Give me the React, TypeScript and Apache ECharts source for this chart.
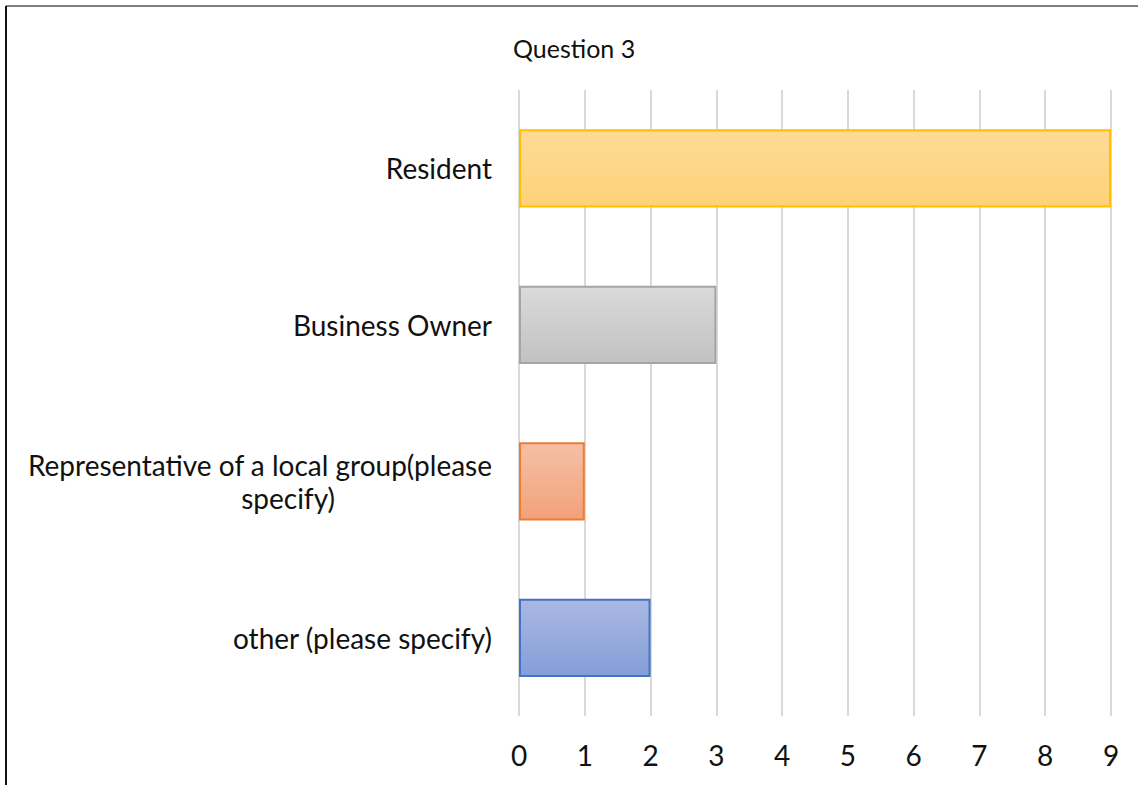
import React, { useEffect, useRef } from "react";
import * as echarts from "echarts";

const categories = [
  "Resident",
  "Business Owner",
  "Representative of a local group(please specify)",
  "other (please specify)",
];
const values = [9, 3, 1, 2];
const xTicks = [0, 1, 2, 3, 4, 5, 6, 7, 8, 9];
const fillTop = ["#FEDA96", "#DADADA", "#F5C0A6", "#AAB8E2"];
const fillBottom = ["#FDD278", "#C2C2C2", "#F3A17A", "#849ED8"];
const borders = ["#FFC000", "#A5A5A5", "#ED7D31", "#4472C4"];

export default function App() {
  const ref = useRef<HTMLDivElement>(null);
  useEffect(() => {
    const chart = echarts.init(ref.current!, null, { renderer: "svg" });
    const font = "Lato, 'Open Sans', sans-serif";
    chart.setOption({
      animation: false,
      backgroundColor: "#fff",
      textStyle: { fontFamily: font },
      title: {
        text: "Question 3",
        left: 508,
        top: 30,
        textStyle: { fontFamily: font, fontSize: 25, fontWeight: "normal", color: "#111" },
      },
      graphic: [
        { type: "line", shape: { x1: 6, y1: 6, x2: 1138, y2: 6 }, style: { stroke: "#7f7f7f", lineWidth: 2 } },
        { type: "line", shape: { x1: 6, y1: 6, x2: 6, y2: 785 }, style: { stroke: "#111", lineWidth: 2 } },
      ],
      grid: { left: 519, right: 27, top: 90, bottom: 69, containLabel: false },
      xAxis: {
        type: "value",
        min: 0,
        max: 9,
        interval: 1,
        axisLine: { show: false },
        axisTick: { show: false },
        splitLine: { show: true, lineStyle: { color: "#D9D9D9", width: 2 } },
        axisLabel: {
          margin: 25,
          fontSize: 28,
          color: "#111",
          fontFamily: font,
          formatter: (v: number) => (xTicks.includes(v) ? String(v) : ""),
        },
      },
      yAxis: {
        type: "category",
        inverse: true,
        data: categories,
        axisLine: { show: false },
        axisTick: { show: false },
        splitLine: { show: false },
        axisLabel: {
          margin: 27,
          fontSize: 28,
          color: "#111",
          fontFamily: font,
          lineHeight: 33,
          formatter: (v: string) => {
            const idx = v.indexOf("(please specify)");
            if (v.startsWith("Representative") && idx > 0) {
              return "{a|" + v.slice(0, idx) + "(please}\n{b|specify)}";
            }
            return v;
          },
          rich: {
            a: { fontSize: 28, color: "#111", fontFamily: font, lineHeight: 33 },
            b: { fontSize: 28, color: "#111", fontFamily: font, lineHeight: 33, padding: [0, 157, 0, 0] },
          },
        },
      },
      series: [
        {
          type: "bar",
          barWidth: "50%",
          data: values.map((v, i) => ({
            value: v,
            itemStyle: {
              color: new echarts.graphic.LinearGradient(0, 0, 0, 1, [
                { offset: 0, color: fillTop[i] },
                { offset: 1, color: fillBottom[i] },
              ]),
              borderColor: borders[i],
              borderWidth: 2,
            },
          })),
        },
      ],
    });
    return () => chart.dispose();
  }, []);
  return (
    <div
      ref={ref}
      style={{ position: "fixed", left: 0, top: 0, width: 1138, height: 785 }}
    />
  );
}
